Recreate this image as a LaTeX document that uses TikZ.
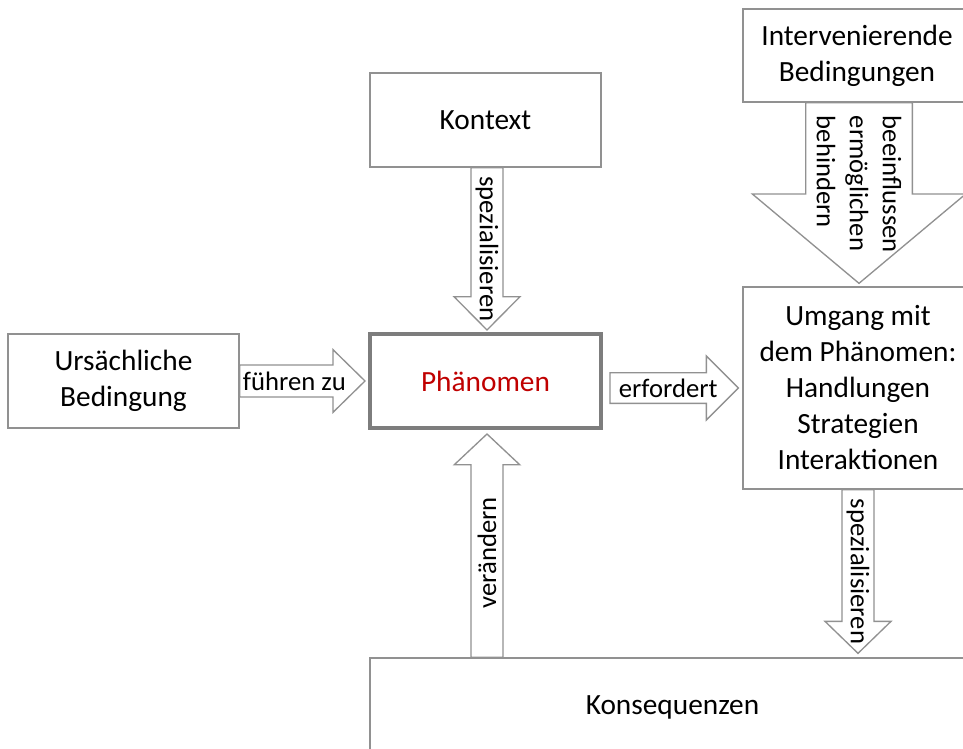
\documentclass[tikz,border=0pt]{standalone}
\usepackage{fontspec}
\setmainfont{Carlito}
\usetikzlibrary{calc}

\definecolor{linegray}{RGB}{145,145,145}
\definecolor{darkline}{RGB}{125,125,125}
\definecolor{phenred}{RGB}{192,0,0}

% block arrow: from, to, half shaft, half head, head length
\newcommand{\blockarrow}[5]{%
  \coordinate (hb) at ($(#2)!#5!(#1)$);
  \draw[arrowline] ($(#1)!#3!90:(#2)$) -- ($(hb)!#3!90:(#2)$) -- ($(hb)!#4!90:(#2)$) -- (#2)
    -- ($(hb)!#4!-90:(#2)$) -- ($(hb)!#3!-90:(#2)$) -- ($(#1)!#3!-90:(#2)$) -- cycle;}

\begin{document}
\begin{tikzpicture}[x=0.75pt,y=-0.75pt,
  box/.style={draw=linegray,line width=1pt,fill=white,align=center,
    font=\fontsize{22}{27}\selectfont,inner sep=0pt},
  focus/.style={box,draw=darkline,line width=3pt,text=phenred},
  arrowline/.style={draw=linegray,line width=1pt,fill=white},
  lbl/.style={font=\fontsize{20}{24.75}\selectfont,inner sep=0pt}]
  \useasboundingbox (0,0) rectangle (963,749);
  \clip (0,0) rectangle (963,749);

  % boxes
  \node[box,minimum width=173.25pt,minimum height=70.5pt] (ursache) at (123.5,381) {Ursächliche\\Bedingung};
  \node[focus,minimum width=173.25pt,minimum height=70.5pt] (phaenomen) at (485.5,381) {Phänomen};
  \node[box,minimum width=173.25pt,minimum height=70.5pt] (kontext) at (485.5,120) {Kontext};
  \node[box,minimum width=171pt,minimum height=69.75pt] (interv) at (857,55.5) {Intervenierende\\Bedingungen};
  \node[box,minimum width=172.5pt,minimum height=151.5pt] (umgang) at (858,388)
    {Umgang mit\\dem Phänomen:\\Handlungen\\Strategien\\Interaktionen};
  \node[box,minimum width=453.75pt,minimum height=73.5pt] (konseq) at (672.5,707) {Konsequenzen};

  % arrow ends
  \coordinate (fz) at ($(phaenomen.west)+(-3,0)$);
  \coordinate (ef0) at ($(phaenomen.east |- umgang.west)+(7,0)$);
  \coordinate (ef) at ($(umgang.west)+(-4,0)$);
  \coordinate (sp) at ($(phaenomen.north)+(1.5,-2)$);
  \coordinate (sp0) at ($(kontext.south)+(1.5,0)$);
  \coordinate (ve0) at ($(phaenomen.south |- konseq.north)+(1.5,0)$);
  \coordinate (ve) at ($(phaenomen.south)+(1.5,4)$);
  \coordinate (bg0) at ($(interv.south)+(2,0)$);
  \coordinate (bg) at ($(umgang.north)+(1,-3)$);
  \coordinate (ks) at ($(umgang.south |- konseq.north)+(0,-4)$);

  \blockarrow{ursache.east}{fz}{12pt}{23.5pt}{24pt}
  \blockarrow{ef0}{ef}{11.5pt}{24pt}{24pt}
  \blockarrow{sp0}{sp}{12pt}{24.75pt}{25pt}
  \blockarrow{ve0}{ve}{12pt}{24.5pt}{23pt}
  \blockarrow{bg0}{bg}{40pt}{80pt}{67pt}
  \blockarrow{umgang.south}{ks}{12pt}{24.75pt}{24pt}

  % labels
  \node[lbl] (lfz) at ($(ursache.east)!0.5!(fz)+(-8,0)$) {führen zu};
  \node[lbl] (lef) at ($(ef0)!0.5!(ef)+(-6,0)$) {erfordert};
  \node[lbl,rotate=-90] (lsp) at ($(sp0)!0.5!(sp)$) {spezialisieren};
  \node[lbl,rotate=90] (lve) at ($(ve0)!0.5!(ve)+(0,7)$) {verändern};
  \node[lbl,rotate=-90,anchor=west,align=left] (lbg) at ($(bg0)+(0,13)$) {beeinflussen\\ermöglichen\\behindern};
  \node[lbl,rotate=-90] (lks) at ($(umgang.south)!0.5!(ks)$) {spezialisieren};
\end{tikzpicture}
\end{document}
